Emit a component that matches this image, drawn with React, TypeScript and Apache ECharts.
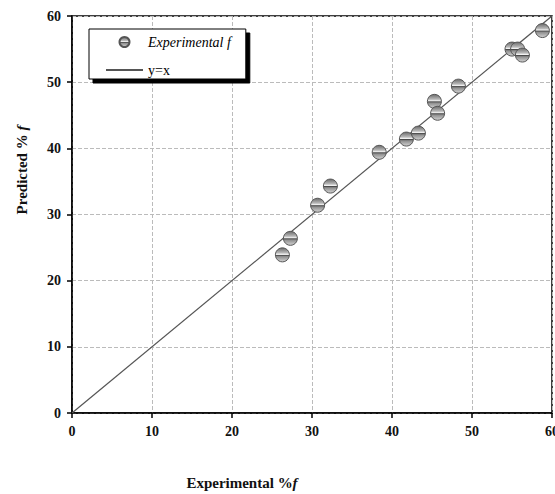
import React, { useEffect, useRef } from "react";
import * as echarts from "echarts";

const experimental = [26.3, 27.3, 30.7, 32.3, 38.4, 41.8, 43.3, 45.3, 45.7, 48.3, 55.0, 55.7, 56.3, 58.8];
const predicted = [23.9, 26.4, 31.4, 34.3, 39.4, 41.4, 42.3, 47.1, 45.3, 49.4, 55.0, 55.0, 54.1, 57.8];
const identityLine = [[0, 0], [60, 60]];
const axisMin = 0;
const axisMax = 60;
const axisInterval = 10;

export default function App() {
  const ref = useRef<HTMLDivElement>(null);
  useEffect(() => {
    if (!ref.current) return;
    const chart = echarts.init(ref.current, null, { renderer: "svg" });
    const serif = "'Liberation Serif', 'Times New Roman', serif";
    const sphere = {
      type: "linear",
      x: 0, y: 0, x2: 0, y2: 1,
      colorStops: [
        { offset: 0, color: "#6a6a6a" },
        { offset: 0.35, color: "#b8b8b8" },
        { offset: 0.47, color: "#f6f6f6" },
        { offset: 0.53, color: "#4a4a4a" },
        { offset: 0.62, color: "#8f8f8f" },
        { offset: 1, color: "#d4d4d4" },
      ],
    };
    const axisCommon = {
      min: axisMin,
      max: axisMax,
      interval: axisInterval,
      axisLine: { show: true, onZero: false, lineStyle: { color: "#000", width: 1.5 } },
      axisTick: { show: true, length: 5, lineStyle: { color: "#000", width: 1.5 } },
      splitLine: { show: true, lineStyle: { color: "#bbb", type: "dashed", width: 1 } },
    };
    const labelStyle = {
      color: "#111",
      fontFamily: serif,
      fontWeight: "bold",
      fontSize: 14,
    };
    const italicRich = { i: { fontStyle: "italic", fontWeight: "bold", fontSize: 15, fontFamily: serif, fill: "#111" } };
    chart.setOption({
      animation: false,
      backgroundColor: "#fff",
      grid: {
        left: 72,
        right: 3,
        top: 16,
        bottom: 81,
        containLabel: false,
        outerBoundsMode: "none",
        show: true,
        borderColor: "#000",
        borderWidth: 1.5,
        backgroundColor: "transparent",
      },
      xAxis: { type: "value", ...axisCommon, axisLabel: { ...labelStyle, margin: 11 } },
      yAxis: { type: "value", ...axisCommon, axisLabel: { ...labelStyle, margin: 11 } },
      legend: {
        orient: "vertical",
        left: 89,
        top: 29,
        padding: [6, 15, 2, 16],
        itemWidth: 37,
        itemHeight: 10,
        itemGap: 14,
        backgroundColor: "#fff",
        borderColor: "#000",
        borderWidth: 1,
        shadowColor: "#000",
        shadowBlur: 0,
        shadowOffsetX: 4,
        shadowOffsetY: 4,
        textStyle: { fontFamily: serif, fontSize: 14, color: "#000" },
        data: [
          { name: "Experimental f", textStyle: { fontStyle: "italic" } },
          { name: "y=x", itemStyle: { opacity: 0 } },
        ],
      },
      graphic: [
        {
          type: "text",
          x: 242,
          y: 483,
          style: {
            text: "Experimental %{i|f}",
            font: `bold 15px ${serif}`,
            fill: "#111",
            align: "center",
            verticalAlign: "middle",
            rich: italicRich,
          },
        },
        {
          type: "text",
          x: 22,
          y: 170,
          rotation: Math.PI / 2,
          style: {
            text: "Predicted % {i|f}",
            font: `bold 15px ${serif}`,
            fill: "#111",
            align: "center",
            verticalAlign: "middle",
            rich: italicRich,
          },
        },
      ],
      series: [
        {
          name: "y=x",
          type: "line",
          data: identityLine,
          symbol: "none",
          itemStyle: { color: "#555" },
          lineStyle: { color: "#555", width: 1.2 },
          z: 2,
        },
        {
          name: "Experimental f",
          type: "scatter",
          data: experimental.map((x, i) => [x, predicted[i]]),
          symbol: "circle",
          symbolSize: 14,
          itemStyle: { color: sphere as any, borderColor: "#555", borderWidth: 1, opacity: 1 },
          z: 3,
        },
      ],
    });
    return () => chart.dispose();
  }, []);
  return (
    <div style={{ position: "absolute", left: 0, top: 0, width: 555, height: 494, overflow: "hidden" }}>
      <div ref={ref} style={{ width: 555, height: 494 }} />
    </div>
  );
}
